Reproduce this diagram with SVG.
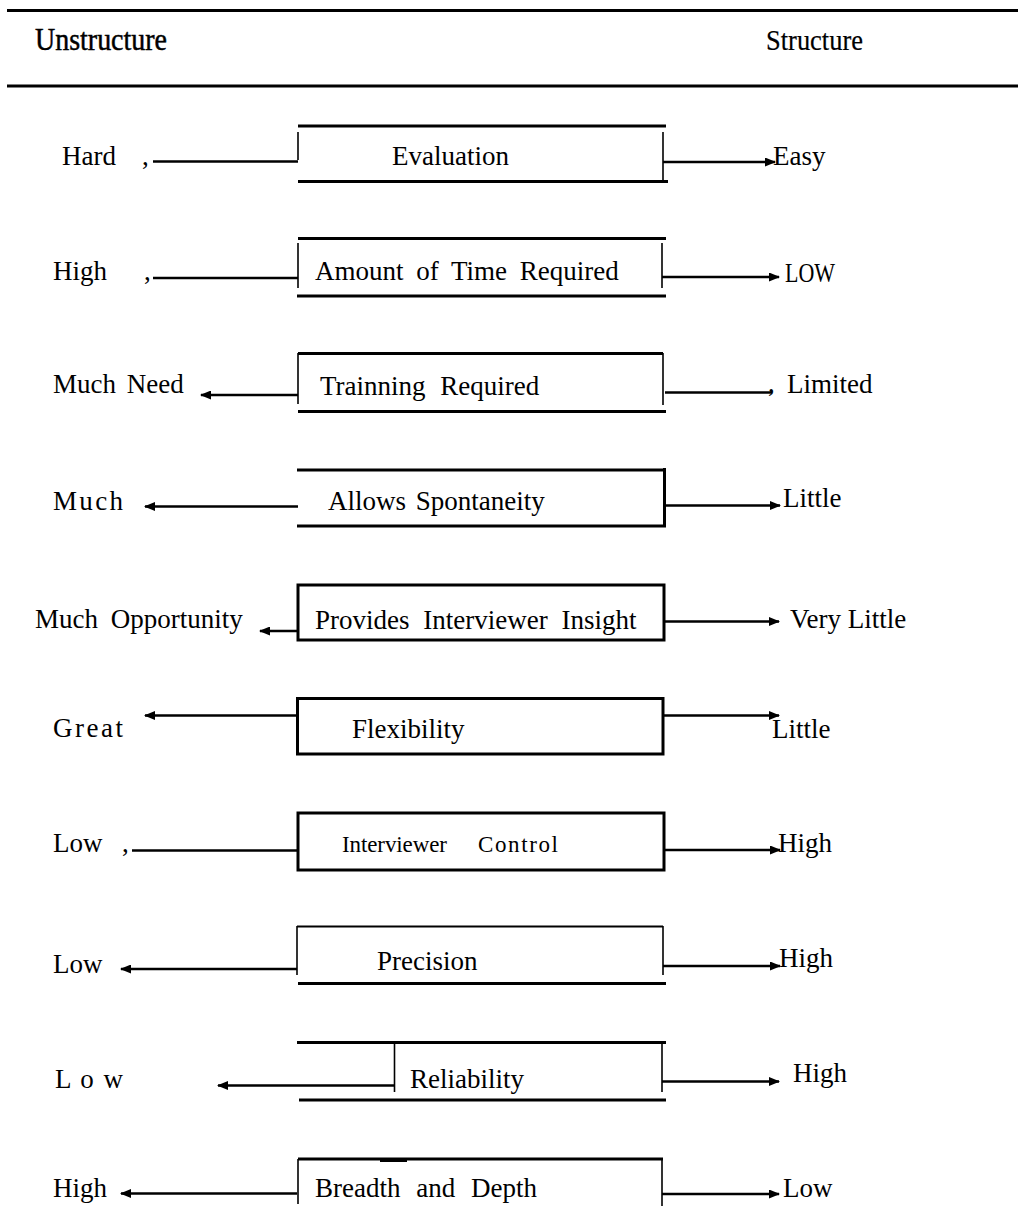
<svg xmlns="http://www.w3.org/2000/svg" width="1018" height="1212" viewBox="0 0 1018 1212">
<style>
text{font-family:"Liberation Serif","Times New Roman",serif;font-size:27px;fill:#000}
.hdr{font-size:32px;stroke:#000;stroke-width:0.5}
.rule{stroke:#000;stroke-width:3.2;fill:none}
.edge{stroke:#000;stroke-width:3;fill:none;stroke-linecap:butt}
.side{stroke:#000;stroke-width:1.6;fill:none}
.sideb{stroke:#000;stroke-width:3;fill:none}
.conn{stroke:#000;stroke-width:2.6;fill:none}
.arr{marker-end:url(#ah)}
</style>
<defs>
<marker id="ah" markerUnits="userSpaceOnUse" markerWidth="11" markerHeight="9" refX="10" refY="4.5" orient="auto">
<path d="M0,0 L11,4.5 L0,9 z" fill="#000"/>
</marker>
</defs>
<rect width="1018" height="1212" fill="#fff"/>
<g id="header">
<line class="rule" x1="7" y1="10.5" x2="1018" y2="10.5"/>
<line class="rule" x1="7" y1="86" x2="1018" y2="86"/>
<text class="hdr" x="35" y="50" textLength="132" lengthAdjust="spacingAndGlyphs">Unstructure</text>
<text class="hdr" x="766" y="50" textLength="97" lengthAdjust="spacingAndGlyphs" style="font-size:30px;stroke-width:0.2">Structure</text>
</g>
<g id="connectors">
<line class="conn" x1="153" y1="161.5" x2="298" y2="161.5"/>
<line class="conn arr" x1="663" y1="162" x2="775" y2="162"/>
<line class="conn" x1="153" y1="278" x2="298" y2="278"/>
<line class="conn arr" x1="662" y1="277" x2="779" y2="277"/>
<line class="conn arr" x1="298" y1="395" x2="201" y2="395"/>
<line class="conn" x1="665" y1="392.5" x2="772" y2="392.5"/>
<line class="conn arr" x1="298" y1="506.5" x2="145" y2="506.5"/>
<line class="conn arr" x1="664" y1="505.5" x2="780" y2="505.5"/>
<line class="conn arr" x1="298" y1="631" x2="260" y2="631"/>
<line class="conn arr" x1="664" y1="621.5" x2="779" y2="621.5"/>
<line class="conn arr" x1="298" y1="715.5" x2="145" y2="715.5"/>
<line class="conn arr" x1="663" y1="715.5" x2="779" y2="715.5"/>
<line class="conn" x1="132" y1="850.5" x2="298" y2="850.5"/>
<line class="conn arr" x1="664" y1="850" x2="780" y2="850"/>
<line class="conn arr" x1="297" y1="969" x2="121" y2="969"/>
<line class="conn arr" x1="663" y1="966" x2="780" y2="966"/>
<line class="conn arr" x1="394" y1="1085.5" x2="218" y2="1085.5"/>
<line class="conn arr" x1="662" y1="1081.5" x2="779" y2="1081.5"/>
<line class="conn arr" x1="297" y1="1193.5" x2="121" y2="1193.5"/>
<line class="conn arr" x1="662" y1="1194" x2="779" y2="1194"/>
</g>
<g id="node-evaluation">
<line class="edge" x1="298" y1="126" x2="666" y2="126"/>
<line class="edge" x1="298" y1="181.5" x2="668" y2="181.5"/>
<line class="side" x1="298" y1="132" x2="298" y2="160"/>
<line class="side" x1="663" y1="132" x2="663" y2="181"/>
<text x="392" y="165">Evaluation</text>
</g>
<g id="node-time">
<line class="edge" x1="298" y1="238.5" x2="666" y2="238.5"/>
<line class="edge" x1="297" y1="296" x2="666" y2="296"/>
<line class="side" x1="298" y1="243" x2="298" y2="288"/>
<line class="side" x1="662" y1="243" x2="662" y2="288"/>
<text x="315" y="280" word-spacing="6">Amount of Time Required</text>
</g>
<g id="node-training">
<line class="edge" x1="298" y1="353.5" x2="663" y2="353.5"/>
<line class="edge" x1="298" y1="411.5" x2="666" y2="411.5"/>
<line class="side" x1="298" y1="353" x2="298" y2="404"/>
<line class="side" x1="663" y1="353" x2="663" y2="405"/>
<text x="320" y="395" word-spacing="8">Trainning Required</text>
</g>
<g id="node-spontaneity">
<line class="edge" x1="297" y1="470" x2="666" y2="470"/>
<line class="edge" x1="297" y1="526" x2="666" y2="526"/>
<line class="sideb" x1="664.5" y1="468" x2="664.5" y2="527"/>
<text x="328" y="510" word-spacing="3">Allows Spontaneity</text>
</g>
<g id="node-insight">
<rect class="edge" x="298" y="585" width="366" height="55"/>
<text x="315" y="629" word-spacing="7">Provides Interviewer Insight</text>
</g>
<g id="node-flexibility">
<rect class="edge" x="297.5" y="698.5" width="365.5" height="55.5"/>
<text x="352" y="738">Flexibility</text>
</g>
<g id="node-control">
<rect class="edge" x="298" y="813" width="366" height="57"/>
<text x="342" y="852" textLength="105" style="font-size:23px">Interviewer</text>
<text x="478" y="852" textLength="80" style="font-size:23px">Control</text>
</g>
<g id="node-precision">
<line class="side" x1="297" y1="926.5" x2="663" y2="926.5" style="stroke-width:2"/>
<line class="edge" x1="298" y1="983.5" x2="666" y2="983.5"/>
<line class="side" x1="297" y1="926" x2="297" y2="975"/>
<line class="side" x1="663" y1="926" x2="663" y2="975"/>
<text x="377" y="970">Precision</text>
</g>
<g id="node-reliability">
<line class="edge" x1="297" y1="1042.5" x2="666" y2="1042.5"/>
<line class="edge" x1="299" y1="1100" x2="666" y2="1100"/>
<line class="side" x1="394.5" y1="1042" x2="394.5" y2="1092"/>
<line class="side" x1="662" y1="1042" x2="662" y2="1092"/>
<text x="410" y="1088">Reliability</text>
</g>
<g id="node-breadth">
<line class="edge" x1="298" y1="1159" x2="663" y2="1159"/>
<line class="edge" x1="380" y1="1160" x2="407" y2="1160" style="stroke-width:4"/>
<line class="side" x1="298" y1="1159" x2="298" y2="1204"/>
<line class="side" x1="662" y1="1158" x2="662" y2="1206"/>
<text x="315" y="1197" word-spacing="9">Breadth and Depth</text>
</g>
<g id="labels-left">
<text x="62" y="165">Hard</text>
<text x="142" y="165">,</text>
<text x="53" y="280">High</text>
<text x="144" y="280">,</text>
<text x="53" y="393" word-spacing="4">Much Need</text>
<text x="53" y="510" textLength="70">Much</text>
<text x="35" y="628" word-spacing="6">Much Opportunity</text>
<text x="53" y="737" textLength="70">Great</text>
<text x="53" y="852">Low</text>
<text x="122" y="852">,</text>
<text x="53" y="973">Low</text>
<text x="55" y="1088" textLength="68">L o w</text>
<text x="53" y="1197">High</text>
</g>
<g id="labels-right">
<text x="773" y="165">Easy</text>
<text x="785" y="282" textLength="50" lengthAdjust="spacingAndGlyphs">LOW</text>
<text x="768" y="392">,</text>
<text x="787" y="393">Limited</text>
<text x="783" y="507">Little</text>
<text x="790" y="628">Very Little</text>
<text x="772" y="738">Little</text>
<text x="778" y="852">High</text>
<text x="779" y="967">High</text>
<text x="793" y="1082">High</text>
<text x="783" y="1197">Low</text>
</g>
</svg>
